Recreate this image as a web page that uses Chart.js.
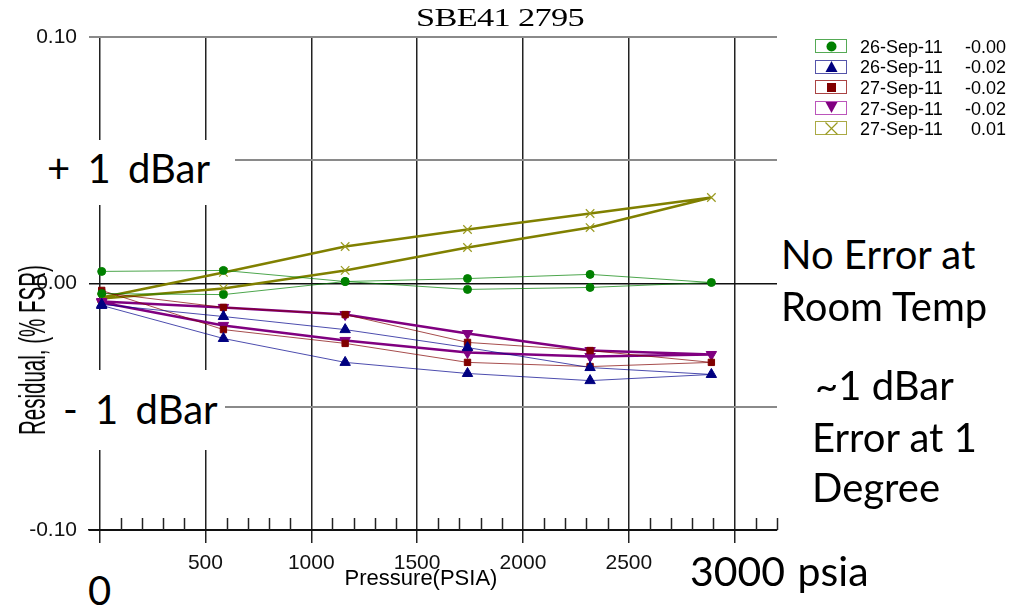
<!DOCTYPE html>
<html><head><meta charset="utf-8">
<script src="https://cdn.jsdelivr.net/npm/chart.js@4/dist/chart.umd.min.js"></script>
<style>
html,body{margin:0;padding:0;background:#fff;}
#wrap{position:relative;width:1021px;height:609px;overflow:hidden;background:#fff;}
#c{position:absolute;left:0;top:0;}
.t{position:absolute;white-space:nowrap;line-height:1;color:#000;}
.box{position:absolute;background:#fff;}
.note{font-family:Lato,'Open Sans',sans-serif;font-size:40px;}
.leg{font-family:'Liberation Sans',Arial,sans-serif;font-size:18px;}
</style></head>
<body><div id="wrap"><canvas id="c" width="1021" height="609"></canvas></div>
<script>
// ---- data ----
const pressures = [10, 585, 1160, 1738, 2317, 2890, 2317, 1738, 1160, 585, 10];
const green26a  = [-0.0041,-0.0045,0.0008,-0.0024,-0.0016,0.0004,0.0037,0.0020,0.0008,0.0053,0.0049];
const blue26b   = [-0.0089,-0.0223,-0.0320,-0.0365,-0.0394,-0.0369,-0.0341,-0.0260,-0.0187,-0.0134,-0.0085];
const red27a    = [-0.0028,-0.0187,-0.0243,-0.0320,-0.0337,-0.0320,-0.0272,-0.0239,-0.0126,-0.0097,-0.0037];
const purple27b = [-0.0077,-0.0170,-0.0231,-0.0280,-0.0296,-0.0288,-0.0272,-0.0203,-0.0126,-0.0097,-0.0073];
const olive27c  = [-0.0061,-0.0020,0.0053,0.0146,0.0227,0.0349,0.0284,0.0219,0.0150,0.0045,-0.0057];
const seriesDates   = ['26-Sep-11','26-Sep-11','27-Sep-11','27-Sep-11','27-Sep-11'];
const seriesOffsets = ['-0.00','-0.02','-0.02','-0.02','0.01'];
const xTickLabels = [500, 1000, 1500, 2000, 2500];
const yTickLabels = ['-0.10', '0.00', '0.10'];
const xTickValues = [];
for (let v = 0; v <= 3200; v += 100) xTickValues.push(v);
const yTickValues = [-0.1, -0.05, 0, 0.05, 0.1];

const styles = [
  {line:'rgba(0,128,0,0.7)', pt:'#008000', style:'circle', r:4, lw:1, box:'#55aa55'},
  {line:'rgba(0,0,140,0.7)', pt:'#000080', style:'triangle', r:6, lw:1, box:'#5555aa'},
  {line:'rgba(128,0,0,0.7)', pt:'#800000', style:'rect', r:4.5, lw:1, box:'#aa4444'},
  {line:'#800080', pt:'#800080', style:'triangle', r:6, lw:2.5, box:'#bb55bb', rot:180},
  {line:'#808000', pt:'#9a9a20', style:'crossRot', r:6, lw:2.5, box:'#aaaa44'}
];
const seriesVals = [green26a, blue26b, red27a, purple27b, olive27c];

const datasets = seriesVals.map((vals, i) => ({
  label: seriesDates[i] + ' ' + seriesOffsets[i],
  data: pressures.map((p, k) => ({x: p, y: vals[k]})),
  borderColor: styles[i].line,
  borderWidth: styles[i].lw,
  pointStyle: styles[i].style,
  pointRadius: styles[i].r,
  pointRotation: styles[i].rot || 0,
  pointBackgroundColor: styles[i].pt,
  pointBorderColor: styles[i].pt,
  pointBorderWidth: i === 4 ? 1.2 : 1,
  tension: 0,
  fill: false
}));

const minorTicks = {
  id: 'minorTicks',
  afterDatasetsDraw(chart) {
    const xs = chart.scales.x, a = chart.chartArea, c = chart.ctx;
    c.save(); c.strokeStyle = '#222'; c.lineWidth = 1.5;
    xs.ticks.forEach(t => {
      if (t.value % 500 !== 0) {
        const px = Math.round(xs.getPixelForValue(t.value)) + 0.5;
        c.beginPath(); c.moveTo(px, a.bottom - 12); c.lineTo(px, a.bottom); c.stroke();
      }
    });
    c.restore();
  }
};

new Chart(document.getElementById('c'), {
  type: 'line',
  data: {datasets},
  options: {
    responsive: false, animation: false, devicePixelRatio: 1,
    layout: {padding: {left: 0, top: 37, right: 244, bottom: 0}},
    plugins: {legend: {display: false}, title: {display: false}, tooltip: {enabled: false}},
    scales: {
      x: {
        type: 'linear', min: -50, max: 3200,
        afterBuildTicks: s => { s.ticks = xTickValues.map(v => ({value: v})); },
        afterFit: s => { s.height = 79; },
        grid: {
          color: c => (c.tick && c.tick.value % 500 === 0) ? '#222' : 'rgba(0,0,0,0)',
          tickColor: c => (c.tick && c.tick.value % 500 === 0 && c.tick.value < 3200) ? '#222' : 'rgba(0,0,0,0)',
          lineWidth: c => (c.tick && c.tick.value === 3200) ? 2 : 1.5,
          tickLength: 13, drawTicks: true
        },
        border: {display: true, color: '#111', width: 1.5},
        ticks: {
          autoSkip: false, maxRotation: 0, padding: 8, color: '#111',
          font: {family: "'Liberation Sans', Arial, sans-serif", size: 21},
          callback: v => xTickLabels.includes(v) ? String(v) : ''
        }
      },
      y: {
        min: -0.1, max: 0.1,
        afterBuildTicks: s => { s.ticks = yTickValues.map(v => ({value: v})); },
        afterFit: s => { s.width = 89; },
        grid: {
          color: c => (c.tick && (Math.abs(c.tick.value) < 1e-9 || c.tick.value < -0.09)) ? '#111' : '#8a8a8a',
          lineWidth: c => (c.tick && Math.abs(c.tick.value) < 1e-9) ? 1.5 : 2,
          drawTicks: false
        },
        border: {display: false},
        ticks: {
          padding: 12, color: '#111',
          font: {family: "'Liberation Sans', Arial, sans-serif", size: 21},
          callback: v => { const s = v.toFixed(2); return yTickLabels.includes(s) ? s : (Math.abs(v) < 1e-9 ? '0.00' : ''); }
        }
      }
    }
  },
  plugins: [minorTicks]
});

// ---- overlays (text) ----
const wrap = document.getElementById('wrap');
function add(cls, txt, css) {
  const d = document.createElement('div');
  d.className = cls; if (txt !== null) d.textContent = txt;
  Object.assign(d.style, css); wrap.appendChild(d); return d;
}
// white boxes behind annotations
[[40,140,195,65],[55,370,170,80],[779,228,230,105],[800,360,200,150],[80,552,40,57],[684,552,200,57]]
  .forEach(b => add('box', null, {left:b[0]+'px', top:b[1]+'px', width:b[2]+'px', height:b[3]+'px'}));

add('t', 'SBE41 2795', {left:'500px', top:'5px', fontFamily:"'Liberation Serif','Times New Roman',serif", fontSize:'26px', letterSpacing:'-0.5px', transform:'translateX(-50%) scaleX(1.32)'});
add('t', 'Residual, (% FSR)', {left:'33px', top:'350px', fontFamily:"'Liberation Sans',Arial,sans-serif", fontSize:'36px', transform:'translate(-50%,-50%) rotate(-90deg) scaleX(0.57)'});
add('t', 'Pressure(PSIA)', {left:'421px', top:'567px', fontFamily:"'Liberation Sans',Arial,sans-serif", fontSize:'22px', transform:'translateX(-50%)'});

const notes = [['+ 1 dBar',47,148,'7px',40],['- 1 dBar',63,389,'7px',40],['No Error at',781,234,'0px',40],['Room Temp',781,286,'0px',40],
  ['~1 dBar',815,365,'0px',40],['Error at 1',812,417,'0px',40],['Degree',812,467,'0px',40],['0',88,570,'0px',40],['3000 psia',690,550,'2px',41]];
notes.forEach(n => add('t note', n[0], {left:n[1]+'px', top:n[2]+'px', wordSpacing:n[3], fontSize:n[4]+'px'}));

// legend
seriesDates.forEach((d, i) => {
  const top = 39 + i * 20.6;
  const st = styles[i];
  const box = add('box', null, {left:'815px', top:top+'px', width:'30px', height:'12px', border:'1.5px solid '+st.box});
  let shape = '';
  if (i === 0) shape = '<circle cx="16.5" cy="7.5" r="5" fill="'+st.pt+'"/>';
  if (i === 1) shape = '<polygon points="10.5,13 22.5,13 16.5,2" fill="'+st.pt+'"/>';
  if (i === 2) shape = '<rect x="12" y="3" width="9" height="9" fill="'+st.pt+'"/>';
  if (i === 3) shape = '<polygon points="10.5,2 22.5,2 16.5,13" fill="'+st.pt+'"/>';
  if (i === 4) shape = '<path d="M10.5,1.5 L22.5,13.5 M22.5,1.5 L10.5,13.5" stroke="'+st.pt+'" stroke-width="1.2"/>';
  box.innerHTML = '<svg width="33" height="15" style="position:absolute;left:-1.5px;top:-1.5px">'+shape+'</svg>';
  add('t leg', d, {left:'860px', top:(top-1.3)+'px'});
  add('t leg', seriesOffsets[i], {left:'955px', width:'51px', textAlign:'right', top:(top-1.3)+'px'});
});
</script></body></html>
